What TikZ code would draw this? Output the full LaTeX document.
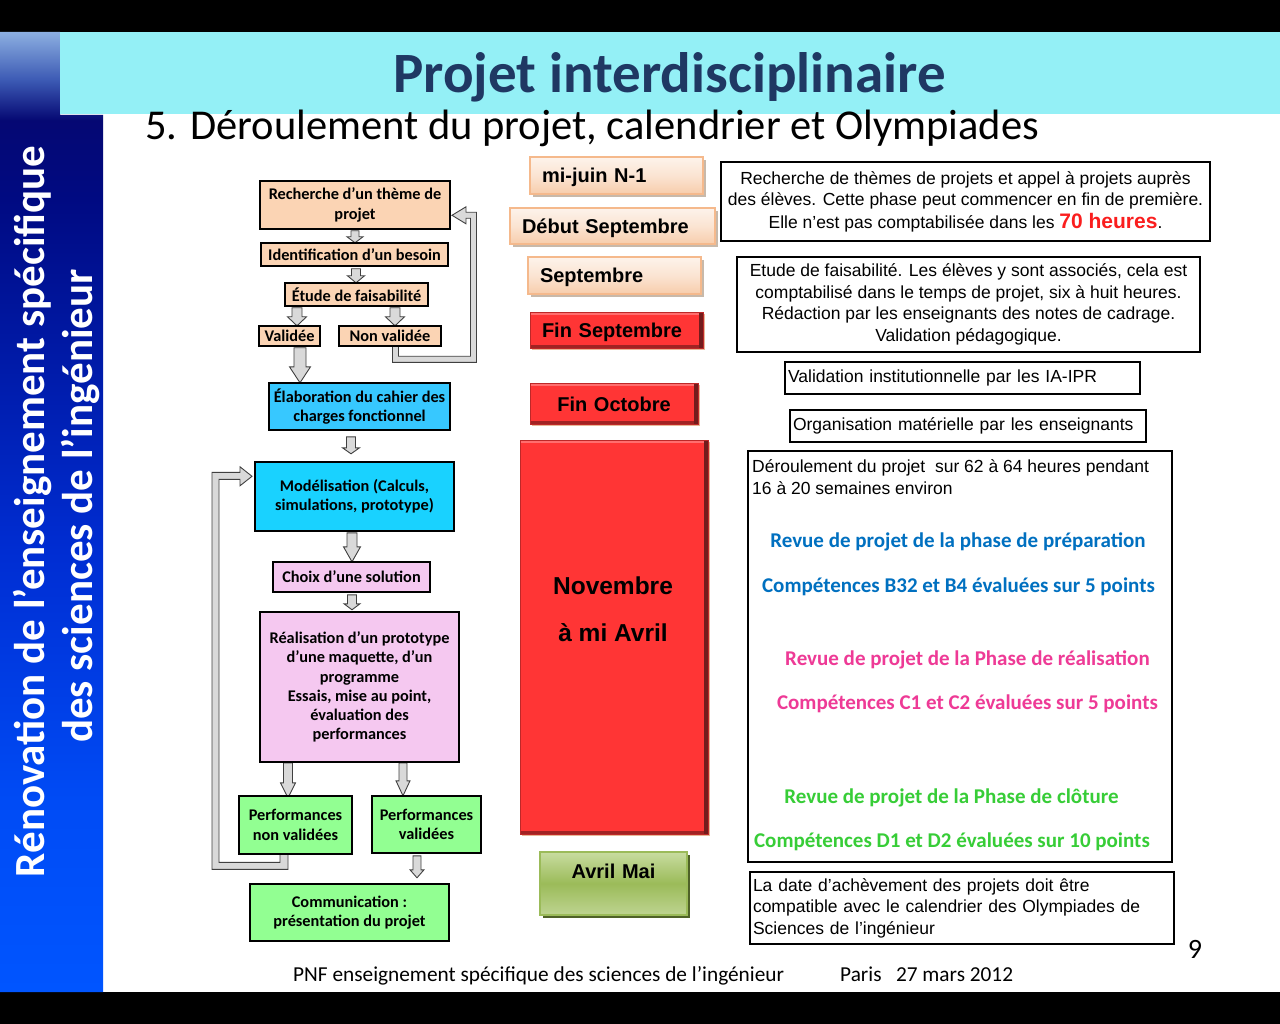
\documentclass[tikz,border=0pt]{standalone}
\usepackage{fontspec}
\setmainfont{Carlito}
\newfontfamily\arialf{Liberation Sans}
\usetikzlibrary{shadows}

\definecolor{sbA}{RGB}{0,85,255}
\definecolor{sbB}{RGB}{0,75,245}
\definecolor{sbC}{RGB}{0,45,210}
\definecolor{sbD}{RGB}{0,25,165}
\definecolor{sbE}{RGB}{0,10,130}
\definecolor{sbH}{RGB}{5,8,115}
\definecolor{sbF}{RGB}{60,90,180}
\definecolor{sbG}{RGB}{140,175,225}
\definecolor{headcyan}{RGB}{148,240,246}
\definecolor{titleblue}{RGB}{31,56,99}
\definecolor{peachc}{RGB}{251,212,180}
\definecolor{blueA}{RGB}{55,200,255}
\definecolor{blueB}{RGB}{25,210,255}
\definecolor{pinkc}{RGB}{245,200,240}
\definecolor{greenc}{RGB}{146,255,146}
\definecolor{arrfill}{RGB}{217,217,217}
\definecolor{arrdraw}{RGB}{64,64,64}
\definecolor{tlborder}{RGB}{245,185,140}
\definecolor{tltop}{RGB}{253,243,235}
\definecolor{tlmid}{RGB}{251,228,210}
\definecolor{tlbot}{RGB}{247,205,172}
\definecolor{tlshadow}{RGB}{200,185,170}
\definecolor{redf}{RGB}{255,53,53}
\definecolor{redtop}{RGB}{255,110,110}
\definecolor{redright}{RGB}{115,28,28}
\definecolor{redbottom}{RGB}{160,35,35}
\definecolor{rededge}{RGB}{190,40,40}
\definecolor{redshadow}{RGB}{232,184,152}
\definecolor{grtop}{RGB}{200,220,160}
\definecolor{grmid}{RGB}{155,187,89}
\definecolor{grbot}{RGB}{190,212,145}
\definecolor{grshadow}{RGB}{79,98,40}
\definecolor{hours}{RGB}{250,30,30}
\definecolor{revblue}{RGB}{0,112,192}
\definecolor{revpink}{RGB}{238,58,150}
\definecolor{revgreen}{RGB}{55,205,55}

\pgfdeclareverticalshading{sidebarsh}{100bp}{color(0bp)=(sbA); color(25bp)=(sbA); color(35bp)=(sbB); color(48bp)=(sbC); color(58.5bp)=(sbD); color(66.3bp)=(sbE); color(70.4bp)=(sbH); color(72.5bp)=(sbF); color(75bp)=(sbG); color(100bp)=(sbG)}

\pgfdeclarelayer{back}
\pgfdeclarelayer{bg}
\pgfsetlayers{back,bg,main}

% block arrow down: #1 x, #2 node above, #3 gap, #4 length, #5 shaft half, #6 head half, #7 head length
\newcommand\blockdn[7]{%
  \draw[barrow] (#1,0 |- #2.south) ++({-#5},#3) -- ++({2*#5},0) -- ++(0,{#4-#7}) -- ++({#6-#5},0) -- ++({-#6},#7) -- ++({-#6},{-#7}) -- ++({#6-#5},0) -- cycle;}

\begin{document}
\begin{tikzpicture}[x=1pt,y=-1pt,
  fc/.style={draw=black, line width=1.6pt, inner sep=0pt, align=center, font=\fontsize{16.3}{19.3}\selectfont\bfseries},
  peach/.style={fc, fill=peachc},
  barrow/.style={fill=arrfill, draw=arrdraw, line width=0.9pt, line join=miter},
  tl/.style={inner ysep=0pt, inner xsep=12pt, align=left, text height=15pt, text depth=0pt,
     font=\arialf\bfseries\fontsize{20}{24}\selectfont},
  tlpeach/.style={tl, draw=tlborder, line width=1.6pt, top color=tltop, bottom color=tlbot, middle color=tlmid,
     drop shadow={shadow xshift=3pt, shadow yshift=-3pt, fill=tlshadow, opacity=1}},
  tlred/.style={tl, fill=redf, draw=rededge, line width=0.8pt,
     drop shadow={shadow xshift=2pt, shadow yshift=-2pt, fill=redshadow, opacity=1},
     path picture={
       \fill[redtop] (path picture bounding box.north west) rectangle ([yshift=-3pt]path picture bounding box.north east);
       \fill[redright] ([xshift=-4pt]path picture bounding box.north east) rectangle (path picture bounding box.south east);
       \fill[redbottom] (path picture bounding box.south west) rectangle ([xshift=-4pt,yshift=3pt]path picture bounding box.south east);
     }},
  tlgreen/.style={tl, draw=grmid, line width=1.5pt, top color=grtop, bottom color=grbot, middle color=grmid,
     drop shadow={shadow xshift=3pt, shadow yshift=-3pt, fill=grshadow, opacity=1}},
  rb/.style={draw=black, line width=1.1pt, fill=white, inner ysep=0pt, inner xsep=3pt,
     font=\arialf\fontsize{17.5}{21.5}\selectfont},
  rev/.style={anchor=base, inner sep=0pt, font=\fontsize{21}{24}\selectfont\bfseries}
]
\useasboundingbox (0,0) rectangle (1280,1024);

\begin{pgfonlayer}{back}
  \fill[white] (0,0) rectangle (1280,1024);
  \fill[black] (0,0) rectangle (1280,32);
  \fill[black] (0,992) rectangle (1280,1024);
  \shade[shading=sidebarsh] (0,32) -- (60,32) -- (60,115) -- (103,115) -- (103,992) -- (0,992) -- cycle;
  \fill[headcyan] (60,32) rectangle (1280,114);
\end{pgfonlayer}

% titles
\node[anchor=base, inner sep=0pt, text=titleblue, font=\fontsize{57}{60}\selectfont\bfseries] (title) at (669.5,93) {Projet interdisciplinaire};
\node[anchor=base west, inner sep=0pt, font=\fontsize{42.5}{46}\selectfont] (subtitle) at (145,140) {5. Déroulement du projet, calendrier et Olympiades};
\node[rotate=90, anchor=base, inner sep=0pt, text=white, font=\fontsize{43}{46}\selectfont\bfseries] (side1) at (44,511.5) {Rénovation de l’enseignement spécifique};
\node[rotate=90, anchor=base, inner sep=0pt, text=white, font=\fontsize{43}{46}\selectfont\bfseries] (side2) at (92,506) {des sciences de l’ingénieur};

% flowchart
\node[peach, minimum width=190, minimum height=48] (r1) at (355,205) {Recherche d’un thème de\\projet};
\node[peach, minimum width=187, minimum height=23] (r2) at (354.5,254.5) {Identification d’un besoin};
\node[peach, minimum width=143, minimum height=23] (r3) at (356.5,294.5) {Étude de faisabilité};
\node[peach, minimum width=61, minimum height=20] (r4) at (289.5,336) {Validée};
\node[peach, minimum width=102, minimum height=20] (r5) at (390,336) {Non validée};
\node[fc, fill=blueA, minimum width=181, minimum height=47] (r6) at (359.5,406.5) {Élaboration du cahier des\\charges fonctionnel};
\node[fc, fill=blueB, minimum width=199, minimum height=69] (r7) at (354.5,496.5) {Modélisation (Calculs,\\simulations, prototype)};
\node[fc, fill=pinkc, minimum width=157, minimum height=30] (r8) at (351.5,577) {Choix d’une solution};
\node[fc, fill=pinkc, minimum width=199, minimum height=150] (r9) at (359.5,687) {Réalisation d’un prototype\\d’une maquette, d’un\\programme\\Essais, mise au point,\\évaluation des\\performances};
\node[fc, fill=greenc, minimum width=113, minimum height=58] (r10) at (295.5,825) {Performances\\non validées};
\node[fc, fill=greenc, minimum width=109, minimum height=57] (r11) at (426.5,824.5) {Performances\\validées};
\node[fc, fill=greenc, minimum width=199, minimum height=57] (r12) at (349.5,912.5) {Communication :\\présentation du projet};

\begin{pgfonlayer}{bg}
  \blockdn{355}{r1}{1}{12}{4}{8}{6}
  \blockdn{356}{r2}{2}{14}{4.5}{8.5}{7}
  \blockdn{297}{r3}{1}{18}{5}{9.5}{9}
  \blockdn{395}{r3}{1}{18}{5}{9.5}{9}
  \blockdn{300}{r4}{1}{35}{6}{10.5}{16}
  \blockdn{351}{r6}{6}{17}{4.5}{8.5}{6}
  \blockdn{352}{r7}{1}{29}{5}{8.5}{15}
  \blockdn{352}{r8}{2}{15}{4.5}{8}{6}
  \blockdn{288}{r9}{0}{35}{4.5}{7.5}{15}
  \blockdn{403}{r9}{0}{33}{4}{7}{15}
  \blockdn{417}{r11}{2}{22}{4}{7}{8}
  % loop back from "Non validée" to "Recherche"
  \draw[barrow] (392.5,0 |- r5.south) ++(0,-3) -- ++(0,18.5) -- ++(84,0) -- ++(0,-150) -- ++(-10.5,0) -- ++(0,-5.5) -- ++(-14,8.5) -- ++(14,8.5) -- ++(0,-5.5) -- ++(4.5,0) -- ++(0,138) -- ++(-72,0) -- ++(0,-12.5) -- cycle;
  % loop back from "Performances non validées" to "Modélisation"
  \draw[barrow] (280,0 |- r10.south) ++(0,-3) -- ++(0,10.5) -- ++(-61,0) -- ++(0,-383) -- ++(21,0) -- ++(0,6.5) -- ++(12,-9.5) -- ++(-12,-9.5) -- ++(0,5.5) -- ++(-28,0) -- ++(0,397) -- ++(76,0) -- ++(0,-17.5) -- cycle;
\end{pgfonlayer}

% timeline
\node[tlpeach, minimum height=37, text width=149] (t1) at (616.5,175.5) {mi-juin N-1};
\node[tlpeach, minimum height=36, text width=181] (t2) at (612.5,226) {Début Septembre};
\node[tlpeach, minimum height=37, text width=149] (t3) at (614.5,275.5) {Septembre};
\node[tlred, minimum height=36, text width=149] (t4) at (616.5,330) {Fin Septembre};
\node[tlred, minimum height=41, text width=144, align=center, text height=16pt] (t5) at (614,403.5) {Fin Octobre};
\node[tlred, minimum height=394, text width=164, align=center] (t6) at (614,637) {};
\node[anchor=base, inner sep=0pt, font=\arialf\bfseries\fontsize{24.5}{28}\selectfont] (t6a) at (613,594) {Novembre};
\node[anchor=base, inner sep=0pt, font=\arialf\bfseries\fontsize{24.5}{28}\selectfont] (t6b) at (613,641) {à mi Avril};
\node[tlgreen, minimum height=63, text width=123, align=center, text height=4pt, text depth=15pt] (t7) at (613.5,883.5) {Avril Mai};

% right column
\node[rb, minimum width=489, minimum height=79, align=center] (bA) at (965.5,201.5) {Recherche de thèmes de projets et appel à projets auprès\\des élèves. Cette phase peut commencer en fin de première.\\[1pt]Elle n’est pas comptabilisée dans les {\color{hours}\bfseries\fontsize{21}{24}\selectfont 70 heures}.};
\node[rb, minimum width=463, minimum height=95, align=center] (bB) at (968.5,304.5) {Etude de faisabilité. Les élèves y sont associés, cela est\\comptabilisé dans le temps de projet, six à huit heures.\\Rédaction par les enseignants des notes de cadrage.\\Validation pédagogique.};
\node[rb, minimum height=32, text width=349, align=left] (bC) at (962.5,378) {Validation institutionnelle par les IA-IPR};
\node[rb, minimum height=32, text width=350, align=left] (bD) at (968,426) {Organisation matérielle par les enseignants};
\node[rb, minimum width=424, minimum height=411] (bE) at (960,656.5) {};
\node[anchor=base west, inner sep=0pt, font=\arialf\fontsize{17.5}{21.5}\selectfont] (e1) at (752,472) {Déroulement du projet \ sur 62 à 64 heures pendant};
\node[anchor=base west, inner sep=0pt, font=\arialf\fontsize{17.5}{21.5}\selectfont] (e2) at (752,494) {16 à 20 semaines environ};
\node[rev, text=revblue] (c1) at (958,547) {Revue de projet de la phase de préparation};
\node[rev, text=revblue] (c2) at (958.5,592) {Compétences B32 et B4 évaluées sur 5 points};
\node[rev, text=revpink] (c3) at (967.5,665) {Revue de projet de la Phase de réalisation};
\node[rev, text=revpink] (c4) at (967.5,709) {Compétences C1 et C2 évaluées sur 5 points};
\node[rev, text=revgreen] (c5) at (951.5,803) {Revue de projet de la Phase de clôture};
\node[rev, text=revgreen] (c6) at (952,847) {Compétences D1 et D2 évaluées sur 10 points};
\node[rb, minimum height=72, text width=418, align=left] (bF) at (962,908) {La date d’achèvement des projets doit être\\compatible avec le calendrier des Olympiades de\\Sciences de l’ingénieur};

% footer
\node[anchor=base, inner sep=0pt, font=\fontsize{28}{30}\selectfont] (pnum) at (1195,958) {9};
\node[anchor=base west, inner sep=0pt, font=\fontsize{21.3}{24}\selectfont] (foot1) at (293,981) {PNF enseignement spécifique des sciences de l’ingénieur};
\node[anchor=base west, inner sep=0pt, font=\fontsize{21.3}{24}\selectfont] (foot2) at (840,981) {Paris \ \ 27 mars 2012};
\end{tikzpicture}
\end{document}
